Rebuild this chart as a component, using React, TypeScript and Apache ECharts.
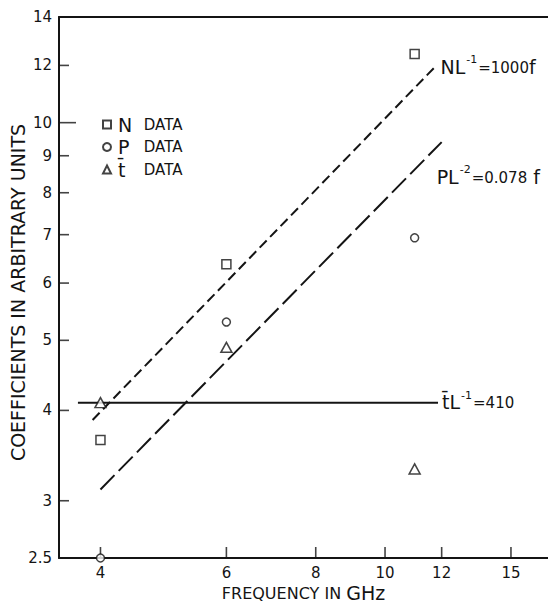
import React, { useEffect, useRef } from "react";
import * as echarts from "echarts";

const xTicks = [4, 6, 8, 10, 12, 15];
const yLabels = [2.5, 3, 4, 5, 6, 7, 8, 9, 10, 12, 14];
const yTicks = [3, 4, 5, 6, 7, 8, 9, 10, 12];
const yLongTick = [10];
const xRange = [3.5, 16.9];
const yRange = [2.5, 14];

const nData = [[4, 3.64], [6, 6.37], [11, 12.44]];
const pData = [[4, 2.5], [6, 5.3], [11, 6.93]];
const tData = [[4, 4.1], [6, 4.89], [11, 3.32]];

const nFit = [[3.9, 3.88], [11.8, 12.0]];
const pFit = [[4, 3.11], [12, 9.4]];
const tFit = [[3.72, 4.1], [11.86, 4.1]];

const FONT = "DejaVu Sans";
const INK = "#141414";

export default function App() {
  const ref = useRef<HTMLDivElement>(null);
  useEffect(() => {
    if (!ref.current) return;
    const chart = echarts.init(ref.current, null, { renderer: "svg" });
    const symStyle = { color: "#fff", borderColor: INK, borderWidth: 1.5 };
    const eqRich = {
      big: { fontFamily: FONT, fontSize: 19, color: INK, lineHeight: 22, verticalAlign: "bottom" },
      sup: { fontFamily: FONT, fontSize: 11, color: INK, lineHeight: 22, verticalAlign: "top", padding: [0, 1, 0, 1] },
      sm: { fontFamily: FONT, fontSize: 15, color: INK, lineHeight: 22, verticalAlign: "bottom", padding: [0, 0, 1, 0] },
      f: { fontFamily: FONT, fontSize: 19, color: INK, lineHeight: 22, verticalAlign: "bottom" },
    };
    const tickLen = (v: number) => (yLongTick.indexOf(v) >= 0 ? 17 : 10);
    chart.setOption({
      animation: false,
      backgroundColor: "#fff",
      grid: { left: 59, top: 17, right: 0, bottom: 45, containLabel: false, outerBoundsMode: "none" },
      legend: {
        orient: "vertical",
        left: 97,
        top: 110,
        itemWidth: 8,
        itemHeight: 8,
        itemGap: 3.5,
        selectedMode: false,
        data: ["N DATA", "P DATA", "t\u0304 DATA"],
        formatter: (name: string) => {
          const parts = name.split(" ");
          return "{big|" + parts[0] + "}{sm| " + parts[1] + "}";
        },
        textStyle: {
          color: INK,
          padding: [0, 0, 0, 2],
          rich: {
            big: { fontFamily: FONT, fontSize: 19, color: INK, lineHeight: 20, width: 21 },
            sm: { fontFamily: FONT, fontSize: 15, color: INK, lineHeight: 20 },
          },
        },
      },
      xAxis: [
        {
          type: "log",
          logBase: 10,
          min: xRange[0],
          max: xRange[1],
          position: "bottom",
          name: "{a|FREQUENCY IN }{b|GHz}",
          nameLocation: "middle",
          nameGap: 26,
          nameMoveOverlap: false,
          nameTextStyle: {
            lineHeight: 18,
            rich: {
              a: { fontFamily: FONT, fontSize: 16, color: INK, lineHeight: 18 },
              b: { fontFamily: FONT, fontSize: 19, color: INK, lineHeight: 18 },
            },
          },
          axisLine: { show: true, lineStyle: { color: INK, width: 2 } },
          axisTick: { show: false },
          axisLabel: { show: true, customValues: xTicks, margin: 7, fontFamily: FONT, fontSize: 15, color: INK },
          splitLine: { show: false },
        },
        {
          type: "log",
          logBase: 10,
          min: xRange[0],
          max: xRange[1],
          position: "top",
          axisLine: { show: true, lineStyle: { color: INK, width: 2 } },
          axisTick: { show: false },
          axisLabel: { show: false },
          splitLine: { show: false },
        },
      ],
      yAxis: [
        {
          type: "log",
          logBase: 10,
          min: yRange[0],
          max: yRange[1],
          position: "left",
          name: "COEFFICIENTS IN ARBITRARY UNITS",
          nameLocation: "middle",
          nameGap: 32,
          nameMoveOverlap: false,
          nameRotate: 90,
          nameTextStyle: { fontFamily: FONT, fontSize: 19, color: INK, padding: [0, 10, 0, 0] },
          axisLine: { show: true, lineStyle: { color: INK, width: 2 } },
          axisTick: { show: false },
          axisLabel: { show: true, customValues: yLabels, margin: 7, fontFamily: FONT, fontSize: 15, color: INK },
          splitLine: { show: false },
        },
      ],
      series: [
        {
          name: "x ticks",
          type: "scatter",
          clip: false,
          silent: true,
          data: xTicks.map((v) => [v, yRange[0]]),
          symbol: "rect",
          symbolSize: [1.6, 11],
          symbolOffset: [0, -5.5],
          itemStyle: { color: INK },
          z: 4,
        },
        {
          name: "y ticks",
          type: "scatter",
          clip: false,
          silent: true,
          data: yTicks.map((v) => ({
            value: [xRange[0], v],
            symbolSize: [tickLen(v), 1.6],
            symbolOffset: [tickLen(v) / 2, 0],
          })),
          symbol: "rect",
          symbolKeepAspect: false,
          itemStyle: { color: INK },
          z: 4,
        },
        {
          name: "NL fit",
          type: "line",
          data: nFit,
          symbol: "none",
          lineStyle: { color: INK, width: 2, type: [10, 5] },
          endLabel: {
            show: true,
            distance: 4,
            formatter: "{big|NL}{sup|-1}{sm|=1000}{f|f}",
            rich: eqRich,
          },
          z: 3,
        },
        {
          name: "PL fit",
          type: "line",
          data: pFit,
          symbol: "none",
          lineStyle: { color: INK, width: 2, type: [20, 6] },
          endLabel: {
            show: true,
            offset: [-13, 33],
            formatter: "{big|PL}{sup|-2}{sm|=0.078}{f| f}",
            rich: eqRich,
          },
          z: 3,
        },
        {
          name: "tL fit",
          type: "line",
          data: tFit,
          symbol: "none",
          lineStyle: { color: INK, width: 2 },
          endLabel: {
            show: true,
            distance: 4,
            offset: [0, -2],
            formatter: "{big|t\u0304L}{sup|-1}{sm|=410}",
            rich: eqRich,
          },
          z: 3,
        },
        {
          name: "N DATA",
          type: "scatter",
          data: nData,
          symbol: "rect",
          symbolSize: 9,
          itemStyle: symStyle,
          clip: false,
          z: 5,
        },
        {
          name: "P DATA",
          type: "scatter",
          data: pData,
          symbol: "circle",
          symbolSize: 8,
          itemStyle: symStyle,
          clip: false,
          z: 5,
        },
        {
          name: "t\u0304 DATA",
          type: "scatter",
          data: tData,
          symbol: "triangle",
          symbolSize: [11, 10],
          itemStyle: symStyle,
          clip: false,
          z: 5,
        },
      ],
    });
    return () => chart.dispose();
  }, []);
  return <div ref={ref} style={{ width: 548, height: 603, position: "absolute", left: 0, top: 0 }} />;
}
